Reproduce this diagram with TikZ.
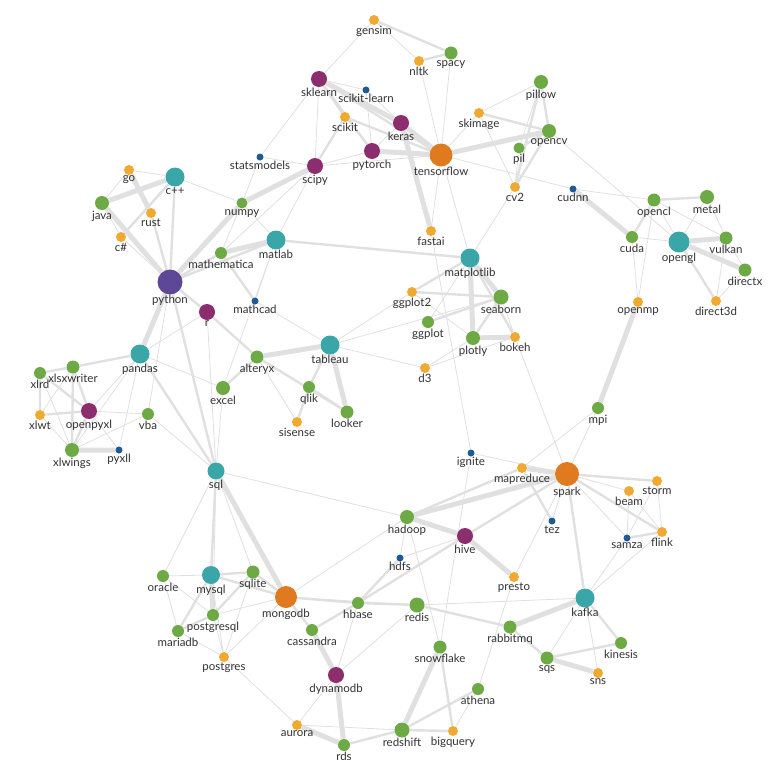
\documentclass[tikz,border=0pt]{standalone}
\usepackage{fontspec}
\setmainfont{Lato}
\usetikzlibrary{backgrounds}

\definecolor{hubpurple}{RGB}{92,72,150}
\definecolor{plum}{RGB}{140,46,110}
\definecolor{tealc}{RGB}{58,166,168}
\definecolor{orangebig}{RGB}{224,122,30}
\definecolor{orangesm}{RGB}{240,170,50}
\definecolor{greenc}{RGB}{109,170,69}
\definecolor{bluec}{RGB}{30,90,148}
\definecolor{labeltext}{RGB}{50,50,50}
\definecolor{edgegray}{RGB}{224,224,224}

\begin{document}
\begin{tikzpicture}
  [x=1pt,y=-1pt,
   vert/.style={circle,inner sep=0pt,draw=none},
   hub/.style={vert,fill=hubpurple,minimum size=25pt},
   big/.style={vert,fill=orangebig,minimum size=23pt},
   tl/.style={vert,fill=tealc,minimum size=19pt},
   purp/.style={vert,fill=plum,minimum size=16pt},
   grn/.style={vert,fill=greenc,minimum size=13pt},
   org/.style={vert,fill=orangesm,minimum size=10pt},
   blu/.style={vert,fill=bluec,minimum size=7pt},
   every label/.style={font=\fontsize{11.5}{13}\selectfont,text=labeltext,
                       inner sep=0.5pt,label distance=0pt},
   wthin/.style={draw=edgegray,line width=0.8pt},
   wmid/.style={draw=edgegray,line width=2.4pt},
   wthick/.style={draw=edgegray,line width=5pt}]
  \useasboundingbox (0,0) rectangle (783,781);

  % languages
  \node (python) at (170,282) [hub,label=below:python] {};
  \node (cpp) at (175,177) [tl,label=below:c++] {};
  \node (go) at (129,170) [org,label=below:go] {};
  \node (java) at (102,203) [grn,minimum size=14pt,label=below:java] {};
  \node (rust) at (151,213) [org,label=below:rust] {};
  \node (csharp) at (121,237) [org,label=below:c\#] {};
  \node (r) at (207,312) [purp,label=below:r] {};
  \node (sql) at (216,471) [tl,minimum size=17pt,label=below:sql] {};

  % scientific python
  \node (statsmodels) at (260,157) [blu,label=below:statsmodels] {};
  \node (numpy) at (242,203) [grn,minimum size=11pt,label=below:numpy] {};
  \node (mathematica) at (221,253) [grn,minimum size=12pt,label=below:mathematica] {};
  \node (matlab) at (276,240) [tl,label=below:matlab] {};
  \node (mathcad) at (255,301) [blu,label=below:mathcad] {};
  \node (scipy) at (315,166) [purp,label=below:scipy] {};

  % machine learning
  \node (gensim) at (374,20) [org,label=below:gensim] {};
  \node (spacy) at (451,53) [grn,label=below:spacy] {};
  \node (nltk) at (419,61) [org,label=below:nltk] {};
  \node (sklearn) at (319,79) [purp,label=below:sklearn] {};
  \node (scikitlearn) at (366,90) [blu,label=below:scikit-learn] {};
  \node (scikit) at (345,117) [org,label=below:scikit] {};
  \node (keras) at (401,123) [purp,label=below:keras] {};
  \node (pytorch) at (372,151) [purp,label=below:pytorch] {};
  \node (tensorflow) at (441,155) [big,label=below:tensorflow] {};
  \node (fastai) at (431,231) [org,label=below:fastai] {};

  % images
  \node (skimage) at (479,113) [org,label=below:skimage] {};
  \node (pil) at (519,148) [grn,minimum size=11pt,label=below:pil] {};
  \node (opencv) at (549,131) [grn,minimum size=14pt,label=below:opencv] {};
  \node (pillow) at (541,82) [grn,minimum size=14pt,label=below:pillow] {};
  \node (cv2) at (515,187) [org,label=below:cv2] {};

  % gpu
  \node (cudnn) at (573,189) [blu,label=below:cudnn] {};
  \node (opencl) at (654,200) [grn,label=below:opencl] {};
  \node (metal) at (707,197) [grn,minimum size=14pt,label=below:metal] {};
  \node (cuda) at (632,237) [grn,minimum size=12pt,label=below:cuda] {};
  \node (opengl) at (679,242) [tl,minimum size=21pt,label=below:opengl] {};
  \node (vulkan) at (726,238) [grn,label=below:vulkan] {};
  \node (directx) at (745,270) [grn,label=below:directx] {};
  \node (direct3d) at (716,301) [org,label=below:direct3d] {};
  \node (openmp) at (638,302) [org,label=below:openmp] {};
  \node (mpi) at (598,408) [grn,minimum size=12pt,label=below:mpi] {};

  % spreadsheets
  \node (pandas) at (140,354) [tl,label=below:pandas] {};
  \node (xlrd) at (40,373) [grn,minimum size=12pt,label=below:xlrd] {};
  \node (xlsxwriter) at (73,367) [grn,label=below:xlsxwriter] {};
  \node (xlwt) at (40,415) [org,label=below:xlwt] {};
  \node (openpyxl) at (89,411) [purp,label=below:openpyxl] {};
  \node (vba) at (148,414) [grn,minimum size=12pt,label=below:vba] {};
  \node (xlwings) at (72,450) [grn,minimum size=14pt,label=below:xlwings] {};
  \node (pyxll) at (119,450) [blu,label=below:pyxll] {};
  \node (excel) at (223,388) [grn,minimum size=14pt,label=below:excel] {};

  % dashboards and plots
  \node (alteryx) at (257,357) [grn,label=below:alteryx] {};
  \node (tableau) at (330,345) [tl,label=below:tableau] {};
  \node (qlik) at (309,387) [grn,minimum size=12pt,label=below:qlik] {};
  \node (looker) at (347,412) [grn,label=below:looker] {};
  \node (sisense) at (297,422) [org,label=below:sisense] {};
  \node (matplotlib) at (470,258) [tl,label=below:matplotlib] {};
  \node (ggplot2) at (412,292) [org,label=below:ggplot2] {};
  \node (ggplot) at (428,322) [grn,minimum size=12pt,label=below:ggplot] {};
  \node (seaborn) at (501,297) [grn,minimum size=15pt,label=below:seaborn] {};
  \node (plotly) at (473,338) [grn,minimum size=14pt,label=below:plotly] {};
  \node (bokeh) at (515,337) [org,label=below:bokeh] {};
  \node (d3) at (425,368) [org,label=below:d3] {};

  % big data
  \node (ignite) at (471,453) [blu,label=below:ignite] {};
  \node (mapreduce) at (522,468) [org,label=below:mapreduce] {};
  \node (spark) at (567,474) [big,minimum size=24pt,label=below:spark] {};
  \node (storm) at (657,481) [org,label=below:storm] {};
  \node (beam) at (629,491) [org,label=below:beam] {};
  \node (flink) at (662,532) [org,label=below:flink] {};
  \node (samza) at (627,538) [blu,label=below:samza] {};
  \node (tez) at (552,521) [blu,label=below:tez] {};
  \node (hadoop) at (407,517) [grn,minimum size=14pt,label=below:hadoop] {};
  \node (hive) at (465,536) [purp,label=below:hive] {};
  \node (hdfs) at (400,558) [blu,label=below:hdfs] {};
  \node (presto) at (514,577) [org,label=below:presto] {};
  \node (kafka) at (585,598) [tl,label=below:kafka] {};
  \node (rabbitmq) at (510,627) [grn,label=below:rabbitmq] {};
  \node (kinesis) at (621,643) [grn,minimum size=12pt,label=below:kinesis] {};
  \node (sqs) at (547,658) [grn,label=below:sqs] {};
  \node (sns) at (598,673) [org,label=below:sns] {};

  % databases
  \node (oracle) at (163,576) [grn,minimum size=12pt,label=below:oracle] {};
  \node (mysql) at (211,575) [tl,minimum size=18pt,label=below:mysql] {};
  \node (sqlite) at (253,572) [grn,label=below:sqlite] {};
  \node (mongodb) at (286,597) [big,minimum size=22pt,label=below:mongodb] {};
  \node (hbase) at (358,603) [grn,minimum size=12pt,label=below:hbase] {};
  \node (redis) at (417,605) [grn,minimum size=15pt,label=below:redis] {};
  \node (postgresql) at (213,615) [grn,minimum size=12pt,label=below:postgresql] {};
  \node (mariadb) at (178,631) [grn,minimum size=12pt,label=below:mariadb] {};
  \node (postgres) at (224,657) [org,label=below:postgres] {};
  \node (cassandra) at (312,630) [grn,minimum size=12pt,label=below:cassandra] {};
  \node (dynamodb) at (336,675) [purp,label=below:dynamodb] {};
  \node (aurora) at (297,725) [org,label=below:aurora] {};
  \node (rds) at (344,745) [grn,minimum size=12pt,label=below:rds] {};
  \node (redshift) at (402,730) [grn,minimum size=15pt,label=below:redshift] {};
  \node (snowflake) at (440,647) [grn,label=below:snowflake] {};
  \node (athena) at (478,689) [grn,minimum size=12pt,label=below:athena] {};
  \node (bigquery) at (453,731) [org,label=below:bigquery] {};

  \begin{scope}[on background layer]
    % heavy links
    \draw[wthick] (java) -- (cpp) (python) -- (java) (python) -- (pandas)
      (go) -- (rust) (numpy) -- (scipy) (mathematica) -- (matlab)
      (python) -- (numpy) (tensorflow) -- (keras) (tensorflow) -- (pytorch)
      (tensorflow) -- (opencv) (sklearn) -- (keras) (keras) -- (fastai)
      (cudnn) -- (cuda) (opengl) -- (vulkan) (opengl) -- (directx)
      (openmp) -- (mpi) (alteryx) -- (tableau) (tableau) -- (looker)
      (xlwings) -- (pyxll) (matplotlib) -- (plotly) (matplotlib) -- (seaborn)
      (plotly) -- (bokeh) (spark) -- (hadoop) (spark) -- (mapreduce)
      (hadoop) -- (hive) (hive) -- (presto) (sql) -- (mongodb)
      (mysql) -- (postgresql) (kafka) -- (rabbitmq) (sqs) -- (sns)
      (snowflake) -- (redshift) (rds) -- (dynamodb) (dynamodb) -- (cassandra)
      (rds) -- (aurora);
    % medium links
    \draw[wmid] (cpp) -- (python) (csharp) -- (cpp) (rust) -- (python)
      (python) -- (mathematica) (python) -- (matlab) (python) -- (r)
      (python) -- (sql) (pandas) -- (sql) (pandas) -- (xlsxwriter)
      (xlrd) -- (xlsxwriter) (xlrd) -- (xlwt) (xlrd) -- (openpyxl)
      (xlsxwriter) -- (openpyxl) (xlsxwriter) -- (xlwings) (xlwt) -- (openpyxl)
      (openpyxl) -- (xlwings) (r) -- (alteryx) (excel) -- (alteryx)
      (tableau) -- (qlik) (qlik) -- (looker) (qlik) -- (sisense)
      (alteryx) -- (looker) (mathematica) -- (mathcad) (matlab) -- (matplotlib)
      (matplotlib) -- (ggplot2) (matplotlib) -- (bokeh) (ggplot2) -- (seaborn)
      (ggplot) -- (seaborn) (seaborn) -- (plotly) (sklearn) -- (scikit)
      (sklearn) -- (pytorch) (tensorflow) -- (sklearn) (tensorflow) -- (scikit)
      (scikit) -- (scipy) (gensim) -- (spacy) (nltk) -- (spacy)
      (skimage) -- (opencv) (pil) -- (opencv) (pillow) -- (opencv)
      (pillow) -- (cv2) (opencv) -- (cv2) (opencl) -- (metal)
      (opencl) -- (cuda) (opengl) -- (direct3d) (spark) -- (hive)
      (spark) -- (kafka) (spark) -- (storm) (spark) -- (flink)
      (mapreduce) -- (tez) (hive) -- (hbase) (samza) -- (flink)
      (kafka) -- (kinesis) (rabbitmq) -- (sqs) (rabbitmq) -- (redis)
      (sqs) -- (kinesis) (redis) -- (hbase) (snowflake) -- (bigquery)
      (redshift) -- (athena) (redshift) -- (bigquery) (redshift) -- (rds)
      (cassandra) -- (mongodb) (cassandra) -- (hbase) (hbase) -- (mongodb)
      (hbase) -- (hdfs) (mongodb) -- (sqlite) (mongodb) -- (mysql)
      (sql) -- (mysql) (mysql) -- (sqlite) (mysql) -- (mariadb)
      (postgresql) -- (mariadb) (postgresql) -- (sqlite) (hadoop) -- (mapreduce);
    % light links
    \draw[wthin] (go) -- (cpp) (go) -- (java) (java) -- (csharp)
      (csharp) -- (python) (cpp) -- (numpy) (statsmodels) -- (numpy)
      (statsmodels) -- (scipy) (statsmodels) -- (sklearn) (numpy) -- (matlab)
      (numpy) -- (mathematica) (scipy) -- (matlab) (scipy) -- (mathematica)
      (scipy) -- (tensorflow) (scipy) -- (pytorch) (scipy) -- (sklearn)
      (python) -- (vba) (r) -- (pandas) (r) -- (sql)
      (matlab) -- (mathcad) (matlab) -- (excel) (mathcad) -- (tableau)
      (pandas) -- (excel) (pandas) -- (openpyxl) (pandas) -- (xlwings)
      (pandas) -- (pyxll) (xlrd) -- (xlwings) (xlsxwriter) -- (xlwt)
      (xlwt) -- (xlwings) (openpyxl) -- (pyxll) (openpyxl) -- (vba)
      (xlwings) -- (vba) (vba) -- (sql) (excel) -- (sql)
      (alteryx) -- (sisense) (tableau) -- (d3) (tableau) -- (ggplot2)
      (tableau) -- (seaborn) (matplotlib) -- (ggplot) (matplotlib) -- (cv2)
      (matplotlib) -- (tensorflow) (ggplot2) -- (plotly) (plotly) -- (d3)
      (d3) -- (bokeh) (seaborn) -- (bokeh) (bokeh) -- (spark)
      (tensorflow) -- (fastai) (fastai) -- (ignite) (tensorflow) -- (nltk)
      (tensorflow) -- (spacy) (tensorflow) -- (cudnn) (tensorflow) -- (skimage)
      (sklearn) -- (scikitlearn) (sklearn) -- (gensim) (scikit) -- (pytorch)
      (scikitlearn) -- (pytorch) (scikitlearn) -- (keras) (pytorch) -- (keras)
      (gensim) -- (nltk) (skimage) -- (pillow) (skimage) -- (cv2)
      (pil) -- (pillow) (pil) -- (cv2) (opencv) -- (opengl)
      (cudnn) -- (opencl) (opencl) -- (opengl) (opencl) -- (vulkan)
      (opencl) -- (openmp) (metal) -- (opengl) (metal) -- (vulkan)
      (cuda) -- (opengl) (cuda) -- (openmp) (vulkan) -- (direct3d)
      (directx) -- (direct3d) (vulkan) -- (directx) (mpi) -- (spark)
      (mpi) -- (mapreduce) (spark) -- (beam) (spark) -- (samza)
      (spark) -- (tez) (spark) -- (presto) (ignite) -- (spark)
      (ignite) -- (snowflake) (hadoop) -- (snowflake) (hadoop) -- (hdfs)
      (hadoop) -- (sql) (hive) -- (hdfs) (presto) -- (athena)
      (kafka) -- (sqs) (kafka) -- (sns) (kafka) -- (samza)
      (kafka) -- (flink) (kafka) -- (redis) (storm) -- (flink)
      (beam) -- (flink) (beam) -- (samza) (storm) -- (samza)
      (redis) -- (mongodb) (redis) -- (dynamodb) (athena) -- (bigquery)
      (redshift) -- (aurora) (aurora) -- (dynamodb) (aurora) -- (postgres)
      (dynamodb) -- (hbase) (mongodb) -- (postgresql) (mongodb) -- (postgres)
      (mongodb) -- (hadoop) (sql) -- (sqlite) (sql) -- (oracle)
      (mysql) -- (oracle) (oracle) -- (postgresql) (oracle) -- (mariadb)
      (postgresql) -- (postgres) (mariadb) -- (postgres) (mysql) -- (postgres)
      (sqlite) -- (postgres) (sql) -- (postgresql);
  \end{scope}
\end{tikzpicture}
\end{document}
